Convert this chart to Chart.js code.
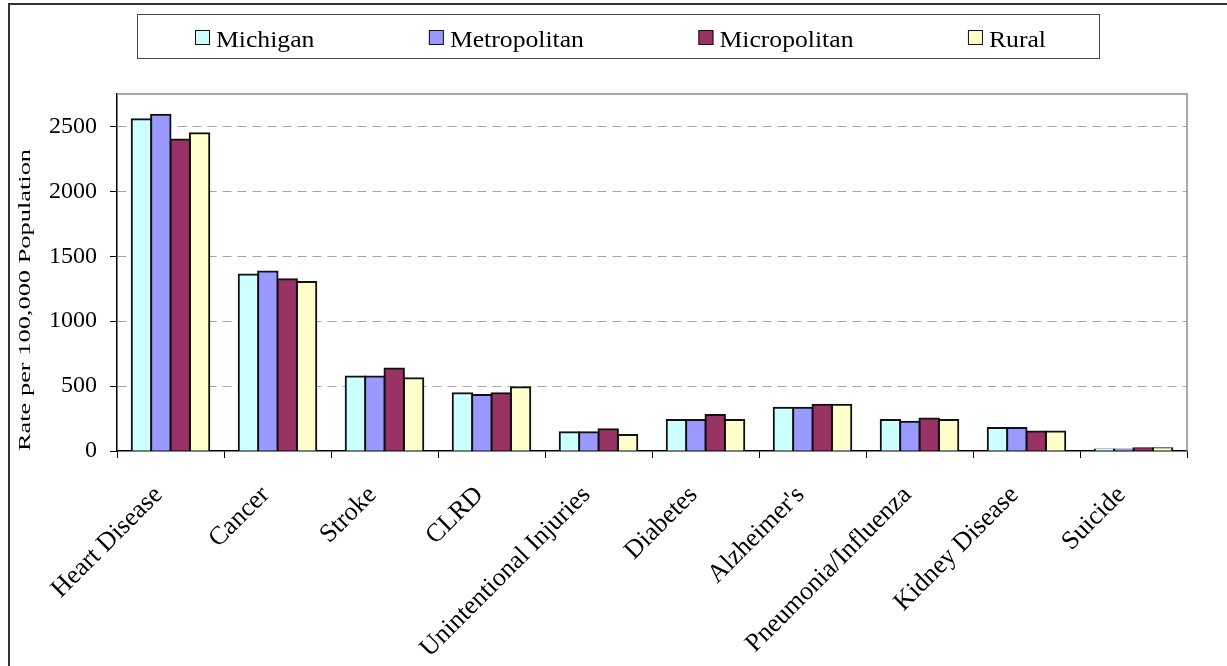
<!DOCTYPE html>
<html>
<head>
<meta charset="utf-8">
<script src="https://cdn.jsdelivr.net/npm/chart.js@4.4.1/dist/chart.umd.min.js"></script>
<style>
  html, body { margin: 0; padding: 0; background: #fff; }
  #wrap { position: relative; width: 1227px; height: 666px; }
</style>
</head>
<body>
<div id="wrap"><canvas id="chart-causas"></canvas></div>
<script>
// === Data ===
const categories = ['Heart Disease', 'Cancer', 'Stroke', 'CLRD', 'Unintentional Injuries',
  'Diabetes', "Alzheimer's", 'Pneumonia/Influenza', 'Kidney Disease', 'Suicide'];
const michigan     = [2555, 1360, 574, 444, 144, 238, 333, 238, 177, 12];
const metropolitan = [2590, 1382, 574, 431, 144, 238, 333, 225, 177, 11];
const micropolitan = [2400, 1323, 636, 444, 167, 277, 356, 251, 151, 22];
const rural        = [2448, 1302, 561, 492, 123, 238, 356, 238, 151, 22];
const seriesNames  = ['Michigan', 'Metropolitan', 'Micropolitan', 'Rural'];
const yTickValues  = [0, 500, 1000, 1500, 2000, 2500];
const yMax = 2750;
const yTitle = 'Rate per 100,000 Population';

const colors = ['#CCFFFF', '#9999FF', '#993366', '#FFFFCC'];
const serif = '"Liberation Serif", "Times New Roman", serif';

// === Frame, legend and axis title ===
const decorPlugin = {
  id: 'decor',
  beforeDatasetsDraw(chart) {
    const { ctx, chartArea: a } = chart;
    ctx.save();
    ctx.strokeStyle = '#8a8a8a';
    ctx.lineWidth = 1.5;
    ctx.beginPath();
    ctx.moveTo(a.left, a.top);
    ctx.lineTo(a.right, a.top);
    ctx.lineTo(a.right, a.bottom);
    ctx.stroke();
    ctx.restore();
  },
  afterDraw(chart) {
    const ctx = chart.ctx;
    ctx.save();
    // outer border
    ctx.strokeStyle = '#333';
    ctx.lineWidth = 2;
    ctx.beginPath();
    ctx.moveTo(9, 666);
    ctx.lineTo(9, 4);
    ctx.lineTo(1227, 4);
    ctx.stroke();

    // legend box
    ctx.strokeStyle = '#444';
    ctx.lineWidth = 1;
    ctx.strokeRect(137.5, 14.5, 962, 44);
    ctx.font = '24px ' + serif;
    const sx = 1.07;
    const items = chart.data.datasets.map(ds => ({
      label: ds.label, color: ds.backgroundColor,
      w: 15 + 6 + ctx.measureText(ds.label).width * sx
    }));
    const sumW = items.reduce((s, it) => s + it.w, 0);
    const gap = (851 - sumW) / (items.length - 1);
    let x = 620.5 - 851 / 2;
    items.forEach(it => {
      ctx.fillStyle = it.color;
      ctx.fillRect(x, 30, 15, 15);
      ctx.strokeStyle = '#111';
      ctx.strokeRect(x + 0.5, 30.5, 14, 14);
      ctx.save();
      ctx.translate(x + 21, 46.5);
      ctx.scale(sx, 1);
      ctx.fillStyle = '#000';
      ctx.textBaseline = 'alphabetic';
      ctx.fillText(it.label, 0, 0);
      ctx.restore();
      x += it.w + gap;
    });

    // y axis title
    ctx.translate(26, 300);
    ctx.rotate(-Math.PI / 2);
    ctx.scale(1.65, 1);
    ctx.font = '16px ' + serif;
    ctx.fillStyle = '#000';
    ctx.textAlign = 'center';
    ctx.textBaseline = 'middle';
    ctx.fillText(yTitle, 0, 0);
    ctx.restore();
  }
};

const seriesData = [michigan, metropolitan, micropolitan, rural];

new Chart(document.getElementById('chart-causas').getContext('2d'), {
  type: 'bar',
  data: {
    labels: categories,
    datasets: seriesNames.map((name, i) => ({
      label: name,
      data: seriesData[i],
      backgroundColor: colors[i],
      borderColor: '#111',
      borderWidth: 2,
      inflateAmount: 1,
      categoryPercentage: 0.725,
      barPercentage: 1.0
    }))
  },
  options: {
    responsive: true,
    maintainAspectRatio: false,
    animation: false,
    layout: { padding: { top: 94, right: 40, bottom: 0, left: 0 } },
    plugins: { legend: { display: false }, tooltip: { enabled: false } },
    scales: {
      x: {
        grid: { offset: true, drawOnChartArea: false, tickLength: 7, color: '#000', tickBorderDash: [] },
        border: { color: '#000', width: 1.5 },
        ticks: {
          autoSkip: false, minRotation: 45, maxRotation: 45, padding: 22, labelOffset: -12,
          color: '#000', font: { family: serif, size: 26 }
        },
        afterFit(axis) { axis.height = 215; }
      },
      y: {
        min: 0,
        max: yMax,
        bounds: 'data',
        grid: {
          color: c => (c.tick && c.tick.value === 0) ? 'rgba(0,0,0,0)' : '#a6a6a6',
          tickColor: '#000', tickLength: 7, tickBorderDash: []
        },
        border: { color: '#000', width: 1.5, dash: [9, 6] },
        ticks: {
          padding: 13, color: '#000', font: { family: serif, size: 24 },
          callback: v => String(v)
        },
        afterBuildTicks(axis) { axis.ticks = yTickValues.map(v => ({ value: v })); },
        afterFit(axis) { axis.width = 117; }
      }
    }
  },
  plugins: [decorPlugin]
});
</script>
</body>
</html>
